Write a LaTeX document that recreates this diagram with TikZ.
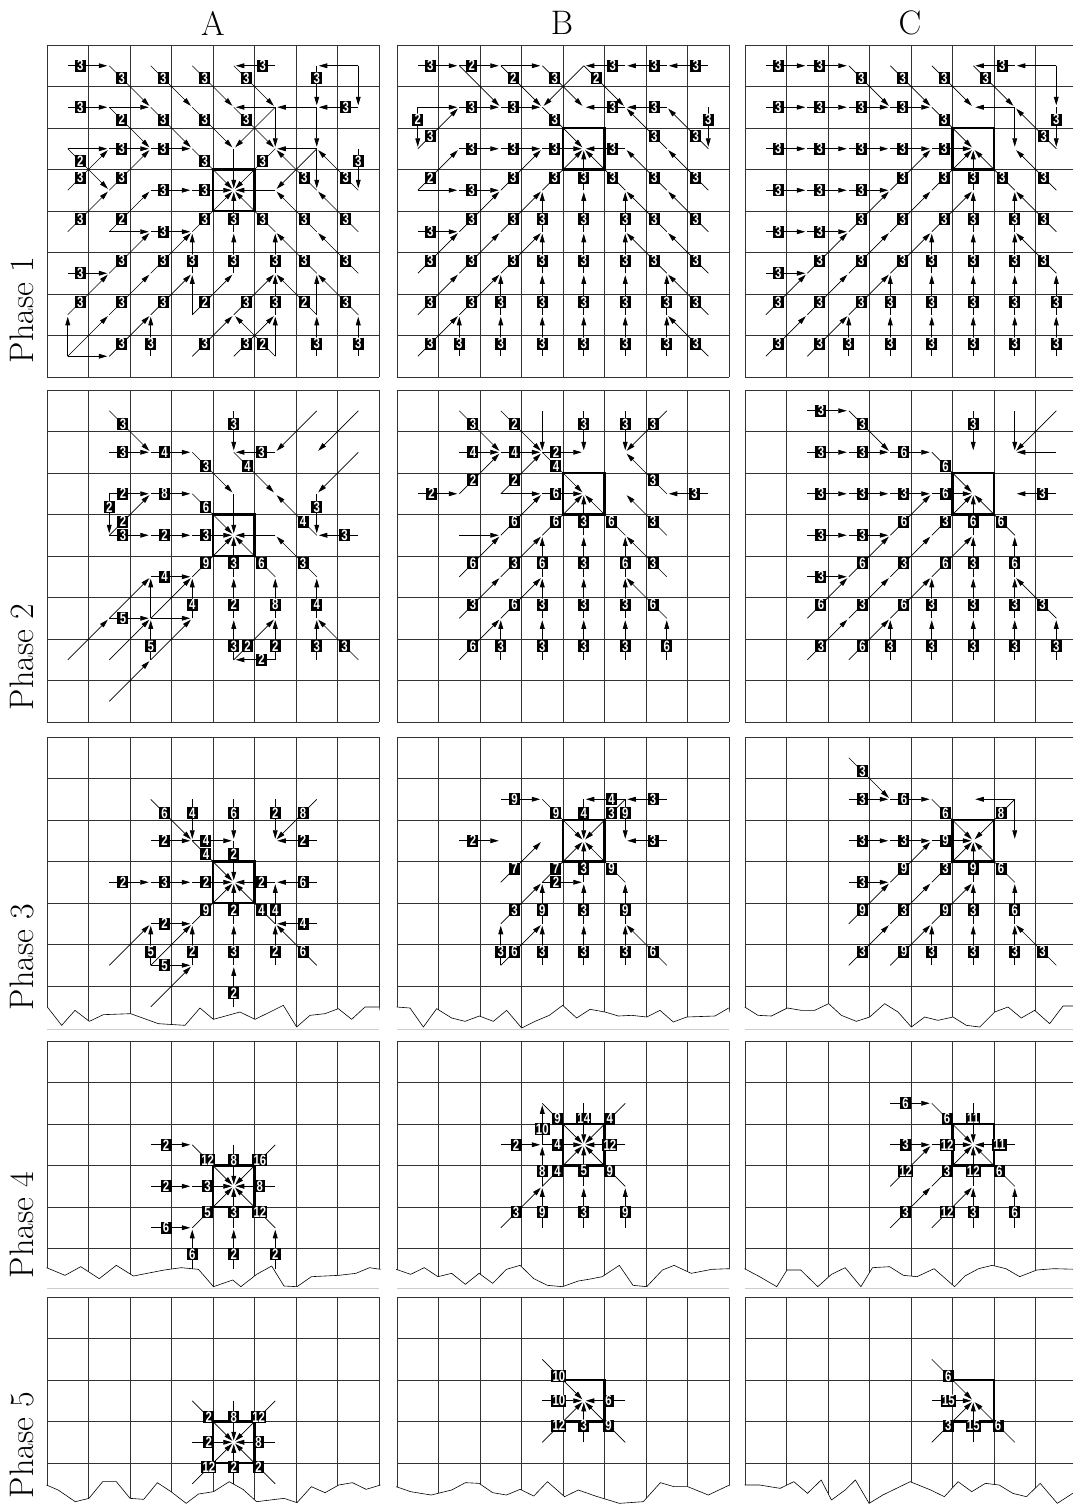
\documentclass[tikz,border=0pt]{standalone}
\usepackage{fontspec}
\newfontfamily\lblfont{Liberation Sans}
\usetikzlibrary{arrows.meta}
\def\dxE{1}\def\dyE{0}\def\dxW{-1}\def\dyW{0}
\def\dxN{0}\def\dyN{-1}\def\dxS{0}\def\dyS{1}
\def\dxNE{1}\def\dyNE{-1}\def\dxNW{-1}\def\dyNW{-1}
\def\dxSE{1}\def\dySE{1}\def\dxSW{-1}\def\dySW{1}
\newcommand\lblsize{\fontsize{15}{15}\selectfont}
\tikzset{
  gridline/.style={line width=0.75pt, black!80},
  tgt/.style={line width=2.4pt, black, line join=miter},
  flow/.style={line width=0.7pt, -{Triangle[length=8.5pt,width=4.8pt]}, shorten >=2pt},
  lbl/.style={fill=black, text=white, font=\lblfont\bfseries\lblsize,
    inner xsep=1.2pt, inner ysep=0.5pt, minimum width=11pt, minimum height=12pt},
  jagline/.style={line width=0.6pt, black},
  hdr/.style={font=\fontsize{34}{34}\selectfont},
  frame/.style={line width=0.6pt, black!20}
}
\newcommand\lbltext[1]{\scalebox{0.76}[1]{#1}}
% #1 name, #2 x0, #3 y0, #4 bottom, #5 last horizontal line index
\newcommand\panelgrid[5]{%
  \foreach \ci in {0,...,7}{\foreach \ri in {0,...,7}{%
    \coordinate (#1-\ci-\ri) at ({#2+(\ci+0.5)*41.5},{#3+(\ri+0.5)*41.5});}}
  \foreach \k in {0,...,8}{\draw[gridline] ({#2+\k*41.5},#3) -- ({#2+\k*41.5},#4);}
  \foreach \k in {0,...,#5}{\draw[gridline] (#2,{#3+\k*41.5}) -- ({#2+332},{#3+\k*41.5});}
}
% target box: #1 x0, #2 y0, #3 col, #4 row
\newcommand\tbox[4]{\draw[tgt] ({#1+#3*41.5},{#2+#4*41.5}) rectangle ++(41.5,41.5);}
\newcommand\tboxopen[4]{\draw[tgt] ({#1+#3*41.5},{#2+#4*41.5+41.5}) -- ++(41.5,0) -- ++(0,-41.5) -- ++(-41.5,0);}
% jag: #1 sx, #2 sy, #3 xunit, #4 points, #5 xl, #6 xr, #7 yb
\newcommand\jag[7]{%
  \begin{scope}[shift={(#1,#2)}, x=#3pt, y=-0.33333pt]
    \fill[white] #4 -- (#6,#7) -- (#5,#7) -- cycle;
    \draw[jagline] #4;
  \end{scope}}
% flows: #1 panel name, #2 label pos, #3 list c/r/dir/label
\newcommand\flows[3]{%
  \foreach \fc/\fr/\fd/\fl in {#3}{%
    \edef\ddx{\csname dx\fd\endcsname}\edef\ddy{\csname dy\fd\endcsname}%
    \pgfmathtruncatemacro\tgc{\fc+\ddx}%
    \pgfmathtruncatemacro\tgr{\fr+\ddy}%
    \draw[flow] (#1-\fc-\fr) -- (#1-\tgc-\tgr);}
  \foreach \fc/\fr/\fd/\fl in {#3}{%
    \ifnum\fl>0
    \edef\ddx{\csname dx\fd\endcsname}\edef\ddy{\csname dy\fd\endcsname}%
    \pgfmathtruncatemacro\tgc{\fc+\ddx}%
    \pgfmathtruncatemacro\tgr{\fr+\ddy}%
    \path (#1-\fc-\fr) -- node[lbl,pos=#2] (#1-\fc-\fr-\fd) {\lbltext{\fl}} (#1-\tgc-\tgr);
    \fi}
}
\begin{document}
\begin{tikzpicture}[x=1pt,y=-1pt]
\useasboundingbox (0,0) rectangle (1073,1504);
\clip (0,0) rectangle (1073,1504);
\fill[white] (0,0) rectangle (1073,1504);

% headers
\node[hdr] (hA) at (213,23) {A};
\node[hdr] (hB) at (562,23) {B};
\node[hdr] (hC) at (910,23) {C};
\node[hdr,rotate=90] (p1) at (22,310) {Phase 1};
\node[hdr,rotate=90] (p2) at (22,657) {Phase 2};
\node[hdr,rotate=90] (p3) at (22,957) {Phase 3};
\node[hdr,rotate=90] (p4) at (22,1225) {Phase 4};
\node[hdr,rotate=90] (p5) at (22,1445) {Phase 5};

% grids
\panelgrid{a1}{47}{45}{377}{8}
\panelgrid{b1}{397}{45}{377}{8}
\panelgrid{c1}{745}{45}{377}{8}
\panelgrid{a2}{47}{390}{722}{8}
\panelgrid{b2}{397}{390}{722}{8}
\panelgrid{c2}{745}{390}{722}{8}
\panelgrid{a3}{47}{737}{1029}{7}
\panelgrid{b3}{397}{737}{1029}{7}
\panelgrid{c3}{745}{737}{1029}{7}
\panelgrid{a4}{47}{1041}{1288}{5}
\panelgrid{b4}{397}{1041}{1288}{5}
\panelgrid{c4}{745}{1041}{1288}{5}
\panelgrid{a5}{47}{1297}{1504}{4}
\panelgrid{b5}{397}{1297}{1504}{4}
\panelgrid{c5}{745}{1297}{1504}{4}

% jagged cuts
\jag{40}{732}{0.33333}{(22,825) -- (65,880) -- (105,835) -- (148,868) -- (190,848) -- (272,845) -- (355,875) -- (435,880) -- (480,828) -- (520,862) -- (600,840) -- (645,862) -- (690,840) -- (730,820) -- (770,885) -- (810,850) -- (855,845) -- (895,830) -- (935,862) -- (975,825) -- (1017,825)}{10}{1030}{892}
\jag{390}{732}{0.33333}{(20,825) -- (60,828) -- (100,885) -- (140,830) -- (185,858) -- (225,868) -- (268,852) -- (310,868) -- (350,835) -- (395,888) -- (435,868) -- (478,850) -- (518,820) -- (560,858) -- (600,832) -- (645,840) -- (685,852) -- (725,850) -- (770,855) -- (810,835) -- (850,870) -- (890,855) -- (975,852) -- (1016,828)}{8}{1030}{892}
\jag{738}{732}{0.33333}{(20,825) -- (60,850) -- (100,852) -- (148,828) -- (190,835) -- (230,835) -- (272,815) -- (310,850) -- (355,868) -- (395,855) -- (440,815) -- (480,840) -- (520,885) -- (560,855) -- (600,865) -- (645,855) -- (685,880) -- (725,885) -- (770,840) -- (810,825) -- (850,858) -- (890,835) -- (935,875) -- (975,822) -- (1030,822)}{8}{1040}{892}
\jag{0}{1036}{0.68433}{(68,695) -- (95,718) -- (118,692) -- (145,728) -- (170,688) -- (195,720) -- (240,702) -- (265,695) -- (290,700) -- (312,752) -- (340,732) -- (352,752) -- (375,715) -- (397,690) -- (415,750) -- (434,752) -- (455,722) -- (495,718) -- (520,712) -- (540,695) -- (556,700)}{62}{562}{758}
\jag{0}{1036}{0.68433}{(579,700) -- (600,715) -- (620,695) -- (640,722) -- (660,712) -- (680,745) -- (700,712) -- (720,742) -- (740,700) -- (760,688) -- (780,728) -- (800,748) -- (822,752) -- (845,735) -- (860,730) -- (880,722) -- (905,688) -- (925,748) -- (945,752) -- (968,702) -- (985,688) -- (1010,712) -- (1040,700) -- (1066,698)}{573}{1072}{758}
\jag{0}{1036}{0.68433}{(1088,698) -- (1110,722) -- (1135,752) -- (1150,702) -- (1170,702) -- (1195,752) -- (1215,715) -- (1235,695) -- (1258,752) -- (1275,695) -- (1300,692) -- (1320,718) -- (1340,722) -- (1365,698) -- (1395,752) -- (1410,720) -- (1430,698) -- (1450,688) -- (1470,698) -- (1490,722) -- (1515,702) -- (1540,698) -- (1575,700)}{1082}{1580}{758}
\jag{0}{1290}{0.68433}{(68,585) -- (85,600) -- (110,635) -- (130,625) -- (150,575) -- (170,575) -- (190,625) -- (210,628) -- (230,578) -- (250,605) -- (272,640) -- (290,612) -- (312,605) -- (335,575) -- (355,598) -- (375,635) -- (395,630) -- (415,625) -- (434,638) -- (455,590) -- (475,608) -- (495,585) -- (515,578) -- (535,598) -- (556,585)}{62}{562}{660}
\jag{0}{1290}{0.68433}{(579,590) -- (600,605) -- (630,615) -- (660,600) -- (680,578) -- (700,580) -- (720,608) -- (740,615) -- (760,598) -- (780,618) -- (800,575) -- (825,620) -- (845,600) -- (870,618) -- (905,640) -- (940,635) -- (965,578) -- (985,590) -- (1005,590) -- (1035,615) -- (1066,585)}{573}{1072}{660}
\jag{0}{1290}{0.68433}{(1088,585) -- (1110,585) -- (1140,595) -- (1160,575) -- (1180,610) -- (1200,570) -- (1215,630) -- (1235,600) -- (1250,570) -- (1270,640) -- (1290,615) -- (1310,595) -- (1330,575) -- (1360,600) -- (1380,620) -- (1400,575) -- (1420,605) -- (1440,580) -- (1460,585) -- (1480,610) -- (1500,620) -- (1520,580) -- (1545,640) -- (1575,600)}{1082}{1580}{660}
\draw[frame] (47,1029) -- (379,1029) (397,1029) -- (729,1029) (745,1029) -- (1073,1029);
\draw[frame] (47,1288.5) -- (379,1288.5) (397,1288.5) -- (729,1288.5) (745,1288.5) -- (1073,1288.5);

% target boxes
\tbox{47}{45}{4}{3}
\tbox{397}{45}{4}{2}
\tbox{745}{45}{5}{2}
\tbox{47}{390}{4}{3}
\tbox{397}{390}{4}{2}
\tbox{745}{390}{5}{2}
\tbox{47}{737}{4}{3}
\tbox{397}{737}{4}{2}
\tbox{745}{737}{5}{2}
\tbox{47}{1041}{4}{3}
\tbox{397}{1041}{4}{2}
\tbox{745}{1041}{5}{2}
\tbox{47}{1297}{4}{3}
\tboxopen{397}{1297}{4}{2}
\tboxopen{745}{1297}{5}{2}

% Phase 1
\flows{a1}{0.3}{0/0/E/3,1/0/SE/3,2/0/SE/3,3/0/SE/3,4/0/SE/3,5/0/W/3,6/0/S/3,7/0/W/0,7/0/S/0,
0/1/E/3,1/1/E/0,1/1/SE/2,2/1/SE/3,3/1/SE/3,4/1/SE/3,5/1/W/0,5/1/SW/0,5/1/S/0,6/1/W/0,6/1/S/0,7/1/W/3,
0/2/E/0,0/2/SE/2,1/2/E/3,2/2/E/3,3/2/SE/3,4/2/S/0,5/2/SW/3,6/2/W/0,6/2/SW/0,6/2/S/0,7/2/S/3,
0/3/NE/3,1/3/NE/3,2/3/E/3,3/3/E/3,5/3/W/0,6/3/NW/3,7/3/NW/3,
0/4/NE/3,1/4/NE/2,1/4/E/0,2/4/E/3,3/4/NE/3,4/4/N/3,5/4/NW/3,6/4/NW/3,7/4/NW/3,
0/5/E/3,1/5/NE/3,2/5/NE/3,3/5/N/3,4/5/N/3,5/5/N/3,6/5/NW/3,7/5/NW/3,
0/6/NE/3,1/6/NE/3,2/6/NE/3,3/6/NE/2,3/6/N/0,4/6/NE/3,5/6/N/3,6/6/NW/2,6/6/N/0,7/6/NW/3,
0/7/N/0,0/7/NE/0,0/7/E/0,1/7/NE/3,2/7/N/3,3/7/NE/3,4/7/NE/3,5/7/NW/2,5/7/N/0,6/7/N/3,7/7/N/3}

\flows{b1}{0.3}{0/0/E/3,1/0/E/2,1/0/SE/0,2/0/E/0,2/0/SE/2,3/0/SE/3,4/0/SW/0,4/0/SE/2,5/0/W/3,6/0/W/3,7/0/W/3,
0/1/E/0,0/1/S/2,1/1/E/3,2/1/E/3,3/1/SE/3,5/1/W/3,6/1/W/3,7/1/S/3,
0/2/NE/3,1/2/E/3,2/2/E/3,3/2/E/3,5/2/W/3,6/2/NW/3,7/2/NW/3,
0/3/NE/2,0/3/E/0,1/3/E/3,2/3/NE/3,3/3/NE/3,4/3/N/3,5/3/NW/3,6/3/NW/3,7/3/NW/3,
0/4/E/3,1/4/NE/3,2/4/NE/3,3/4/N/3,4/4/N/3,5/4/N/3,6/4/NW/3,7/4/NW/3,
0/5/NE/3,1/5/NE/3,2/5/NE/3,3/5/N/3,4/5/N/3,5/5/N/3,6/5/NW/3,7/5/NW/3,
0/6/NE/3,1/6/NE/3,2/6/N/3,3/6/N/3,4/6/N/3,5/6/N/3,6/6/N/3,7/6/NW/3,
0/7/NE/3,1/7/N/3,2/7/N/3,3/7/N/3,4/7/N/3,5/7/N/3,6/7/N/3,7/7/NW/3}

\flows{c1}{0.3}{0/0/E/3,1/0/E/3,2/0/SE/3,3/0/SE/3,4/0/SE/3,5/0/SE/3,6/0/W/3,7/0/W/0,7/0/S/0,
0/1/E/3,1/1/E/3,2/1/E/3,3/1/E/3,4/1/SE/3,6/1/W/0,6/1/S/0,7/1/S/3,
0/2/E/3,1/2/E/3,2/2/E/3,3/2/E/3,4/2/E/3,7/2/NW/3,
0/3/E/3,1/3/E/3,2/3/E/3,3/3/NE/3,4/3/NE/3,5/3/N/3,6/3/NW/3,7/3/NW/3,
0/4/E/3,1/4/E/3,2/4/NE/3,3/4/NE/3,4/4/NE/3,5/4/N/3,6/4/N/3,7/4/NW/3,
0/5/E/3,1/5/NE/3,2/5/NE/3,3/5/NE/3,4/5/N/3,5/5/N/3,6/5/N/3,7/5/NW/3,
0/6/NE/3,1/6/NE/3,2/6/NE/3,3/6/N/3,4/6/N/3,5/6/N/3,6/6/N/3,7/6/N/3,
0/7/NE/3,1/7/NE/3,2/7/N/3,3/7/N/3,4/7/N/3,5/7/N/3,6/7/N/3,7/7/N/3}

% Phase 2
\flows{a2}{0.33}{1/0/SE/3,4/0/S/3,6/0/SW/0,7/0/SW/0,
1/1/E/3,2/1/E/4,3/1/SE/3,4/1/SE/4,5/1/W/3,7/1/SW/0,
1/2/E/2,1/2/S/2,2/2/E/8,3/2/SE/6,4/2/S/0,6/2/S/3,
1/3/NE/2,1/3/E/3,2/3/E/2,3/3/E/3,5/3/W/0,6/3/NW/4,7/3/W/3,
2/4/E/4,3/4/NE/9,4/4/N/3,5/4/NW/6,6/4/NW/3,
1/5/NE/0,1/5/E/5,2/5/N/0,2/5/NE/0,2/5/E/0,3/5/N/4,4/5/N/2,5/5/N/8,6/5/N/4,
0/6/NE/0,1/6/NE/0,2/6/N/5,2/6/NE/0,4/6/N/3,4/6/NE/2,5/6/N/2,5/6/W/2,6/6/N/3,7/6/NW/3,
1/7/NE/0}

\flows{b2}{0.33}{1/0/SE/3,2/0/SE/2,3/0/S/0,4/0/S/3,5/0/S/3,6/0/SW/3,
1/1/E/4,2/1/E/4,3/1/E/2,3/1/SE/4,
0/2/E/2,1/2/NE/2,2/2/NE/2,2/2/E/0,3/2/E/6,6/2/NW/3,7/2/W/3,
1/3/E/0,2/3/NE/6,3/3/NE/6,4/3/N/3,5/3/NW/6,6/3/NW/3,
1/4/NE/6,2/4/NE/3,3/4/N/6,4/4/N/3,5/4/N/6,6/4/NW/3,
1/5/NE/3,2/5/NE/6,3/5/N/3,4/5/N/3,5/5/N/3,6/5/NW/6,
1/6/NE/6,2/6/N/3,3/6/N/3,4/6/N/3,5/6/N/3,6/6/N/6}

\flows{c2}{0.33}{1/0/E/3,2/0/SE/3,5/0/S/3,6/0/S/0,7/0/SW/0,
1/1/E/3,2/1/E/3,3/1/E/6,4/1/SE/6,7/1/W/0,
1/2/E/3,2/2/E/3,3/2/E/3,4/2/E/6,7/2/W/3,
1/3/E/3,2/3/E/3,3/3/NE/6,4/3/NE/3,5/3/N/6,6/3/NW/6,
1/4/E/3,2/4/NE/6,3/4/NE/3,4/4/NE/6,5/4/N/3,6/4/N/6,
1/5/NE/6,2/5/NE/3,3/5/NE/6,4/5/N/3,5/5/N/3,6/5/N/3,7/5/NW/3,
1/6/NE/3,2/6/NE/6,3/6/N/3,4/6/N/3,5/6/N/3,6/6/N/3,7/6/N/3}

% Phase 3
\flows{a3}{0.33}{2/1/SE/6,3/1/S/4,4/1/S/6,5/1/S/2,6/1/SW/8,
2/2/E/2,3/2/E/4,3/2/SE/4,4/2/S/2,6/2/W/2,
1/3/E/2,2/3/E/3,3/3/E/2,5/3/W/2,6/3/W/6,
2/4/E/2,3/4/NE/9,4/4/N/2,5/4/NW/4,5/4/N/4,6/4/W/4,
1/5/NE/0,2/5/N/5,2/5/NE/0,2/5/E/5,3/5/N/2,4/5/N/3,5/5/N/2,6/5/NW/6,
2/6/NE/0,4/6/N/2}

\flows{b3}{0.33}{2/1/E/9,3/1/SE/9,4/1/S/4,5/1/W/4,5/1/SW/3,5/1/S/9,6/1/W/3,
1/2/E/2,6/2/W/3,
2/3/NE/7,3/3/NE/7,3/3/E/2,4/3/N/3,5/3/NW/9,
2/4/NE/3,3/4/N/9,4/4/N/3,5/4/N/9,
2/5/N/3,2/5/NE/6,3/5/N/3,4/5/N/3,5/5/N/3,6/5/NW/6}

\flows{c3}{0.33}{2/0/SE/3,
2/1/E/3,3/1/E/6,4/1/SE/6,6/1/SW/8,6/1/W/0,6/1/S/0,
2/2/E/3,3/2/E/3,4/2/E/9,
2/3/E/3,3/3/NE/9,4/3/NE/3,5/3/N/9,6/3/NW/6,
2/4/NE/9,3/4/NE/3,4/4/NE/9,5/4/N/3,6/4/N/6,
2/5/NE/3,3/5/NE/9,4/5/N/3,5/5/N/3,6/5/N/3,7/5/NW/3}

% Phase 4
\flows{a4}{0.37}{2/2/E/2,3/2/SE/12,4/2/S/8,5/2/SW/16,
2/3/E/2,3/3/E/3,5/3/W/8,
2/4/E/6,3/4/NE/5,4/4/N/3,5/4/NW/12,
3/5/N/6,4/5/N/2,5/5/N/2}

\flows{b4}{0.37}{3/1/SE/9,4/1/S/14,5/1/SW/4,
2/2/E/2,3/2/E/4,3/2/N/10,5/2/W/12,
3/3/N/8,3/3/NE/4,4/3/N/5,5/3/NW/9,
2/4/NE/3,3/4/N/9,4/4/N/3,5/4/N/9}

\flows{c4}{0.37}{3/1/E/6,4/1/SE/6,5/1/S/11,
3/2/E/3,4/2/E/12,6/2/W/11,
3/3/NE/12,4/3/NE/3,5/3/N/12,6/3/NW/6,
3/4/NE/3,4/4/NE/12,5/4/N/3,6/4/N/6}

% Phase 5
\flows{a5}{0.4}{3/2/SE/2,4/2/S/8,5/2/SW/12,3/3/E/2,5/3/W/8,3/4/NE/12,4/4/N/2,5/4/NW/2}
\flows{b5}{0.4}{3/1/SE/10,3/2/E/10,5/2/W/6,3/3/NE/12,4/3/N/3,5/3/NW/9}
\flows{c5}{0.4}{4/1/SE/6,4/2/E/15,4/3/NE/3,5/3/N/15,6/3/NW/6}
\end{tikzpicture}
\end{document}
